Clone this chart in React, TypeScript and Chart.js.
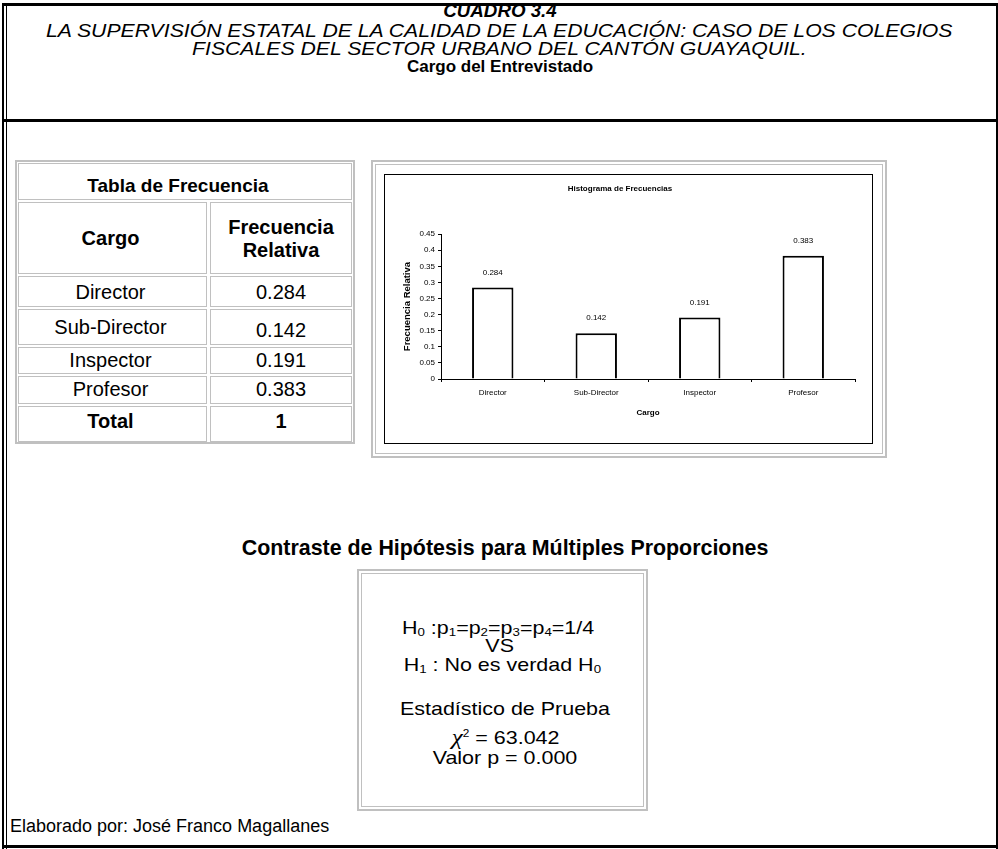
import React, { useEffect, useRef } from 'react';
import { Chart, registerables } from 'chart.js';

Chart.register(...registerables);

// ---- data ----
const categories = ['Director', 'Sub-Director', 'Inspector', 'Profesor'];
const relFreq = [0.284, 0.142, 0.191, 0.383];
const yTickLabels = ['0', '0.05', '0.1', '0.15', '0.2', '0.25', '0.3', '0.35', '0.4', '0.45'];
const tableValues = ['0.284', '0.142', '0.191', '0.383'];
const totalValue = '1';

const FONT = '"Liberation Sans", Arial, Helvetica, sans-serif';
const GREY = '#c0c0c0';

const valueLabels = {
  id: 'valueLabels',
  afterDatasetsDraw(chart: any) {
    const ctx = chart.ctx;
    const meta = chart.getDatasetMeta(0);
    ctx.save();
    ctx.font = '8px ' + FONT;
    ctx.fillStyle = '#000';
    ctx.textAlign = 'center';
    ctx.textBaseline = 'middle';
    meta.data.forEach((bar: any, i: number) => {
      ctx.fillText(String(relFreq[i]), bar.x, bar.y - 15);
    });
    ctx.restore();
  },
};

function HistChart() {
  const ref = useRef<HTMLCanvasElement>(null);
  useEffect(() => {
    if (!ref.current) return;
    Chart.defaults.font.family = FONT;
    const chart = new Chart(ref.current, {
      type: 'bar',
      data: {
        labels: categories,
        datasets: [
          {
            data: relFreq,
            backgroundColor: '#ffffff',
            borderColor: '#000000',
            borderWidth: 2,
            categoryPercentage: 1,
            barPercentage: 0.4,
          },
        ],
      },
      options: {
        responsive: false,
        animation: false,
        events: [],
        layout: { autoPadding: false, padding: { left: 0, right: 17, top: 0, bottom: 24 } },
        plugins: {
          legend: { display: false },
          tooltip: { enabled: false },
          title: {
            display: true,
            text: 'Histograma de Frecuencias',
            color: '#000',
            font: { size: 8, weight: 'bold', family: FONT },
            padding: { top: 8.5, bottom: 41 },
          },
        },
        scales: {
          x: {
            afterFit: (s: any) => { s.height = 40; },
            grid: { drawOnChartArea: false, drawTicks: true, tickLength: 3, color: '#000' },
            border: { display: true, color: '#000', width: 1 },
            ticks: { color: '#000', font: { size: 8, family: FONT }, padding: 6 },
            title: {
              display: true,
              text: 'Cargo',
              color: '#000',
              font: { size: 8, weight: 'bold', family: FONT },
              padding: { top: 0, bottom: 1.5 },
            },
          },
          y: {
            min: 0,
            max: 0.45,
            afterFit: (s: any) => { s.width = 56; },
            grid: { drawOnChartArea: false, drawTicks: true, tickLength: 3, color: '#000' },
            border: { display: true, color: '#000', width: 1 },
            ticks: {
              stepSize: 0.05,
              color: '#000',
              font: { size: 8, family: FONT },
              padding: 3,
              callback: (_v: any, i: number) => yTickLabels[i],
            },
            title: {
              display: true,
              text: 'Frecuencia Relativa',
              color: '#000',
              font: { size: 9.5, weight: 'bold', family: FONT },
              padding: { top: 17, bottom: 0 },
            },
          },
        },
      },
      plugins: [valueLabels],
    } as any);
    return () => chart.destroy();
  }, []);
  return <canvas ref={ref} width={487} height={268} style={{ display: 'block', width: 487, height: 268 }} />;
}

const abs = (x: number, y: number, w: number, h: number, extra: any = {}) => ({
  position: 'absolute' as const,
  left: x,
  top: y,
  width: w,
  height: h,
  boxSizing: 'border-box' as const,
  ...extra,
});

function Line({ cx, cy, w, size, bold, italic, children, lh, sx }: any) {
  const L = lh || size * 1.2;
  return (
    <div
      style={{
        position: 'absolute',
        left: cx - w / 2,
        top: cy - L / 2,
        width: w,
        height: L,
        lineHeight: L + 'px',
        fontSize: size,
        fontWeight: bold ? 'bold' : 'normal',
        fontStyle: italic ? 'italic' : 'normal',
        textAlign: 'center',
        whiteSpace: 'nowrap',
        fontFamily: FONT,
        color: '#000',
      }}
    >
      <span style={{ display: 'inline-block', transform: sx ? `scaleX(${sx})` : undefined, transformOrigin: 'center' }}>
        {children}
      </span>
    </div>
  );
}

function DoubleGrey({ x, y, w, h }: any) {
  return (
    <>
      <div style={abs(x, y, w, h, { border: `2px solid ${GREY}` })} />
      <div style={abs(x + 4, y + 4, w - 8, h - 8, { border: `1px solid ${GREY}` })} />
    </>
  );
}

const subStyle = { fontSize: '0.62em', verticalAlign: '-0.2em', lineHeight: 0 };
const Sub = ({ children }: any) => <sub style={subStyle}>{children}</sub>;

export default function App() {
  const TS = 20; // table font size
  const rows = [
    { t: 276, b: 307, cy: 291.5 },
    { t: 309, b: 345, cy: 327 },
    { t: 347, b: 374, cy: 360 },
    { t: 376, b: 404, cy: 388.5 },
  ];
  const c1 = { l: 18, r: 207 };
  const c2 = { l: 210, r: 352 };
  const cell = (l: number, t: number, r: number, b: number) => (
    <div style={abs(l, t, r - l, b - t, { border: `1px solid ${GREY}` })} />
  );
  const HS = 19; // hypothesis font size
  const HX = 1.13; // horizontal stretch of hypothesis text
  return (
    <div style={{ position: 'absolute', left: 0, top: 0, width: 998, height: 849, background: '#fff', overflow: 'hidden', fontFamily: FONT }}>
      {/* outer frame */}
      <div style={abs(2, 3, 2, 846, { background: '#000' })} />
      <div style={abs(6, 3, 1, 846, { background: '#000' })} />
      <div style={abs(2, 3, 996, 3, { background: '#000' })} />
      <div style={abs(996, 3, 2, 846, { background: '#000' })} />
      <div style={abs(2, 119, 996, 3, { background: '#000' })} />
      <div style={abs(2, 845, 996, 3, { background: '#000' })} />

      {/* title */}
      <Line cx={500} cy={11.5} w={990} size={17.5} bold italic lh={15} sx={1.07}>CUADRO 3.4</Line>
      <Line cx={499} cy={30} w={990} size={19} italic lh={17} sx={1.116}>
        LA SUPERVISIÓN ESTATAL DE LA CALIDAD DE LA EDUCACIÓN: CASO DE LOS COLEGIOS
      </Line>
      <Line cx={499} cy={48.5} w={990} size={19} italic lh={17} sx={1.116}>
        FISCALES DEL SECTOR URBANO DEL CANTÓN GUAYAQUIL.
      </Line>
      <Line cx={500} cy={67} w={990} size={17} bold lh={16}>Cargo del Entrevistado</Line>

      {/* frequency table */}
      <div style={abs(15, 160, 340, 284, { border: `2px solid ${GREY}` })} />
      {cell(18, 163, 352, 200)}
      {cell(c1.l, 202, c1.r, 274)}
      {cell(c2.l, 202, c2.r, 274)}
      {rows.map((r, i) => (
        <React.Fragment key={i}>
          {cell(c1.l, r.t, c1.r, r.b)}
          {cell(c2.l, r.t, c2.r, r.b)}
        </React.Fragment>
      ))}
      {cell(c1.l, 406, c1.r, 442)}
      {cell(c2.l, 406, c2.r, 442)}
      <Line cx={178} cy={186.5} w={330} size={19} bold>Tabla de Frecuencia</Line>
      <Line cx={(c1.l + c1.r) / 2 - 2} cy={238} w={185} size={TS} bold>Cargo</Line>
      <Line cx={(c2.l + c2.r) / 2} cy={226.5} w={140} size={TS} bold lh={22}>Frecuencia</Line>
      <Line cx={(c2.l + c2.r) / 2} cy={250} w={140} size={TS} bold lh={22}>Relativa</Line>
      {rows.map((r, i) => (
        <React.Fragment key={'t' + i}>
          <Line cx={(c1.l + c1.r) / 2 - 2} cy={i === 1 ? 326.5 : r.cy} w={185} size={TS}>{categories[i]}</Line>
          <Line cx={(c2.l + c2.r) / 2} cy={i === 1 ? 330 : r.cy} w={140} size={TS}>{tableValues[i]}</Line>
        </React.Fragment>
      ))}
      <Line cx={(c1.l + c1.r) / 2 - 2} cy={421} w={185} size={TS} bold>Total</Line>
      <Line cx={(c2.l + c2.r) / 2} cy={421} w={140} size={TS} bold>{totalValue}</Line>

      {/* chart frame */}
      <DoubleGrey x={371} y={160} w={516} h={298} />
      <div style={abs(384, 174, 489, 270, { border: '1px solid #000', background: '#fff' })}>
        <HistChart />
      </div>

      {/* hypothesis */}
      <Line cx={505} cy={548} w={700} size={21.4} bold lh={20}>Contraste de Hipótesis para Múltiples Proporciones</Line>
      <DoubleGrey x={357} y={569} w={291} h={242} />
      <Line cx={498} cy={628} w={282} size={HS} lh={14} sx={HX}>
        H<Sub>0</Sub> :p<Sub>1</Sub>=p<Sub>2</Sub>=p<Sub>3</Sub>=p<Sub>4</Sub>=1/4
      </Line>
      <Line cx={500} cy={646} w={282} size={HS} lh={14} sx={HX}>VS</Line>
      <Line cx={502} cy={665} w={282} size={HS} lh={16} sx={HX}>
        H<Sub>1</Sub> : No es verdad H<Sub>0</Sub>
      </Line>
      <Line cx={505} cy={709} w={282} size={HS} lh={18} sx={HX}>Estadístico de Prueba</Line>
      <Line cx={506} cy={738} w={282} size={HS} lh={16} sx={HX}>
        <span style={{ fontFamily: '"Liberation Serif", "Times New Roman", serif', fontStyle: 'italic', fontSize: 22, lineHeight: 0 }}>χ</span>
        <sup style={{ fontSize: '0.55em', verticalAlign: '0.7em', lineHeight: 0 }}>2</sup> = 63.042
      </Line>
      <Line cx={505} cy={758} w={282} size={HS} lh={16} sx={HX}>Valor p = 0.000</Line>

      {/* footer */}
      <div style={{ position: 'absolute', left: 10, top: 826 - 10, height: 20, lineHeight: '20px', fontSize: 18, fontFamily: FONT, whiteSpace: 'nowrap' }}>
        Elaborado por: José Franco Magallanes
      </div>
    </div>
  );
}
